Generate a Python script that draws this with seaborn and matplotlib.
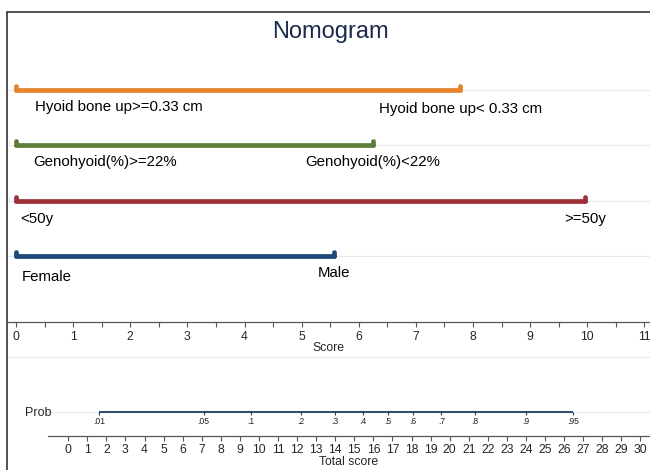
import pandas as pd
import matplotlib.pyplot as plt
from matplotlib.lines import Line2D
import seaborn as sns

# Set style
sns.set_theme(style="white")
plt.rcParams['font.family'] = ['Liberation Sans', 'DejaVu Sans']

# Data
variables = ['Hyoid bone up', 'Genohyoid', 'Age', 'Sex']
points_max = [7.78, 6.25, 9.97, 5.57]
low_labels = ['Hyoid bone up>=0.33 cm', 'Genohyoid(%)>=22%', '<50y', 'Female']
high_labels = ['Hyoid bone up< 0.33 cm', 'Genohyoid(%)<22%', '>=50y', 'Male']
bar_colors = ['#e6832b', '#5d7e3c', '#9e3039', '#1b4a77']

score_ticks = list(range(0, 12))
total_ticks = list(range(0, 31))
prob_labels = ['.01', '.05', '.1', '.2', '.3', '.4', '.5', '.6', '.7', '.8', '.9', '.95']
prob_total = [1.63, 7.1, 9.58, 12.2, 14.0, 15.47, 16.75, 18.06, 19.56, 21.33, 24.0, 26.45]

# label layout (offsets in data units)
low_dx = [0.33, 0.30, 0.07, 0.10]
low_dy = [0.31, 0.31, 0.33, 0.38]
high_dy = [0.34, 0.31, 0.34, 0.31]

W, H = 650, 470
fig = plt.figure(figsize=(W / 100, H / 100), dpi=100)

def box(left, top, right, bottom):
    return [left / W, 1 - bottom / H, (right - left) / W, (bottom - top) / H]

light = '#e4eaef'
axis_col = '#555555'

# ---- top panel: points per predictor ----
ax = fig.add_axes(box(7.5, 62.5, 650, 322))
rows = list(range(len(variables)))
df = pd.DataFrame({
    'variable': [v for v in variables for _ in range(2)],
    'score': [p for m in points_max for p in (0, m)],
    'row': [r for r in rows for _ in range(2)],
})
for r in rows:
    ax.axhline(r, color=light, lw=0.8, zorder=0)
sns.lineplot(data=df, x='score', y='row', hue='variable', palette=bar_colors,
             estimator=None, sort=False, lw=3.4, legend=False, ax=ax,
             solid_capstyle='round')
for r, m, c in zip(rows, points_max, bar_colors):
    ax.vlines([0, m], r, r - 0.07, color=c, lw=3.4, capstyle='round')
    ax.text(0 + low_dx[r], r + low_dy[r], low_labels[r], ha='left', va='center',
            fontsize=10.8, color='black')
    ax.text(m, r + high_dy[r], high_labels[r], ha='center', va='center',
            fontsize=10.8, color='black')

ax.set_xlim(-0.15, 11.1)
ax.set_ylim(4.2, -0.5)
ax.set_yticks([])
ax.set_ylabel('')
ax.set_xticks(score_ticks)
ax.set_xticks([t + 0.5 for t in score_ticks[:-1]], minor=True)
ax.tick_params(axis='x', which='both', bottom=True, direction='out', length=3.5,
               width=0.8, color=axis_col, labelsize=8.8, pad=3)
ax.set_xlabel('Score', fontsize=8.8, labelpad=-1)
for s in ['top', 'left', 'right']:
    ax.spines[s].set_visible(False)
ax.spines['bottom'].set_color(axis_col)
ax.spines['bottom'].set_linewidth(0.9)
ax.patch.set_alpha(0)

# ---- bottom panel: total score and probability ----
bx = fig.add_axes(box(48, 400, 650, 436))
bx.axhline(1, color=light, lw=0.8, zorder=0)
bx.hlines(1, prob_total[0], prob_total[-1], color='#1f3d60', lw=1.3)
bx.vlines(prob_total, 1, 0.86, color='#1f3d60', lw=0.8)
for x, lab in zip(prob_total, prob_labels):
    bx.text(x, 0.62, lab, ha='center', va='center', fontsize=6.2, color='#222222')
bx.set_xlim(-1.06, 30.5)
bx.set_ylim(0, 1.5)
bx.set_yticks([])
bx.set_xticks(total_ticks)
bx.tick_params(axis='x', bottom=True, direction='out', length=3.5, width=0.8,
               color=axis_col, labelsize=8.8, pad=2.5)
bx.set_xlabel('Total score', fontsize=8.8, labelpad=0)
for s in ['top', 'left', 'right']:
    bx.spines[s].set_visible(False)
bx.spines['bottom'].set_color(axis_col)
bx.spines['bottom'].set_linewidth(0.9)
bx.patch.set_alpha(0)

fig.text(25 / W, 1 - 413 / H, 'Prob', ha='left', va='center', fontsize=9)

# title and frame
fig.text(330 / W, 1 - 32 / H, 'Nomogram', ha='center', va='center',
         fontsize=17, color='#1c2b4b')
fig.add_artist(Line2D([7 / W, 1], [1 - 357 / H, 1 - 357 / H], color=light, lw=0.8))
fig.add_artist(Line2D([7 / W, 7 / W], [0, 1 - 12 / H], color='#333333', lw=1.2))
fig.add_artist(Line2D([7 / W, 1], [1 - 12 / H, 1 - 12 / H], color='#333333', lw=1.2))

fig.savefig('out.png', dpi=100)
